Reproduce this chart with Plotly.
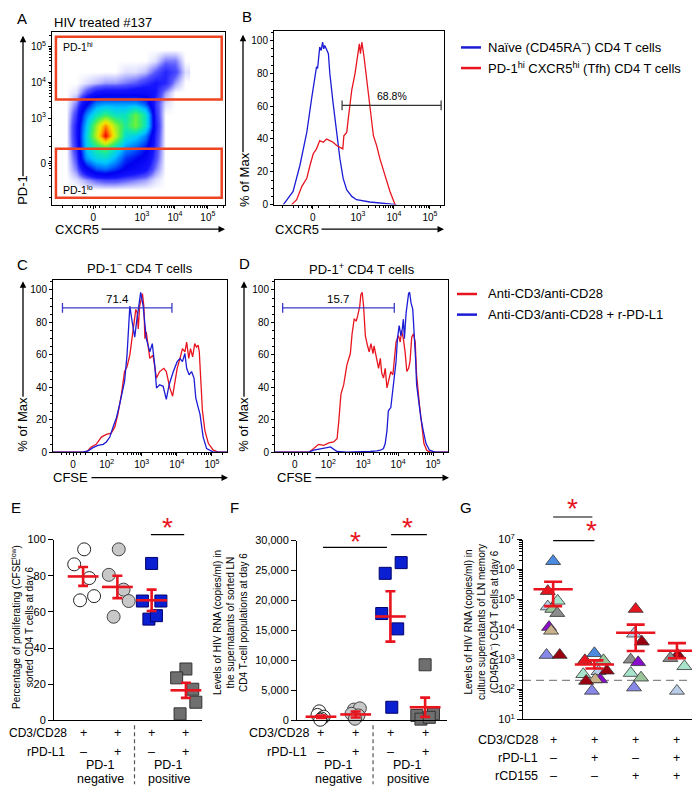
import plotly.graph_objects as go

W, H = 700, 792
PAGE_MARGIN = 8   # the browser adds an 8px body margin around the plot div
def P(x): return (x - PAGE_MARGIN) / W
def Q(y): return 1 - (y - PAGE_MARGIN) / H

FONT = 'Liberation Sans, Arial, Helvetica, sans-serif'
RED = '#e8141e'
BLUE = '#1c1cd6'
GATE_BLUE = '#3a3ac8'

# ---------------- Panel A: PD-1 vs CXCR5 density (display decades) ----------------
a_grid_x = [0.7, 1.0, 1.3, 1.6, 1.9, 2.2, 2.5, 2.8, 3.1, 3.4, 3.7, 4.0, 4.3]
a_grid_y = [1.0, 1.3, 1.6, 1.9, 2.2, 2.5, 2.8, 3.1, 3.4, 3.7, 4.0, 4.3, 4.6, 4.9]
a_density = [
    [0, 0, 0, 0, 0, 0, 0, 0, 0, 0, 0, 0, 0],
    [0, 0.1, 0.3, 0.5, 0.6, 0.6, 0.5, 0.4, 0.3, 0.1, 0, 0, 0],
    [0, 0.4, 1.4, 2.2, 2.4, 2.0, 1.5, 1.3, 1.0, 0.4, 0, 0, 0],
    [0, 0.6, 2.8, 3.6, 3.8, 3.0, 2.0, 1.7, 1.4, 0.6, 0, 0, 0],
    [0, 0.8, 3.3, 4.5, 5.2, 4.0, 2.8, 2.4, 1.8, 0.7, 0, 0, 0],
    [0, 0.9, 3.5, 6.5, 10, 6.5, 3.8, 3.4, 2.6, 0.8, 0, 0, 0],
    [0, 0.9, 3.2, 6.0, 8.5, 6.0, 4.4, 5.6, 4.0, 0.9, 0, 0, 0],
    [0, 0.7, 2.6, 4.0, 4.8, 4.0, 4.0, 5.4, 4.0, 0.8, 0, 0, 0],
    [0, 0.4, 1.5, 2.6, 2.8, 2.8, 2.8, 2.8, 2.2, 0.7, 0.1, 0, 0],
    [0, 0.1, 0.6, 1.0, 1.1, 1.1, 1.1, 1.2, 1.2, 0.9, 0.3, 0, 0],
    [0, 0, 0.1, 0.2, 0.3, 0.3, 0.4, 0.5, 0.7, 0.9, 0.8, 0.3, 0],
    [0, 0, 0, 0, 0, 0, 0.1, 0.1, 0.2, 0.5, 0.8, 0.6, 0.1],
    [0, 0, 0, 0, 0, 0, 0, 0, 0, 0.1, 0.4, 0.4, 0],
    [0, 0, 0, 0, 0, 0, 0, 0, 0, 0, 0, 0, 0],
]
a_gate_x = [0.39, 5.42]
a_gate_hi = [3.52, 5.27]
a_gate_lo = [0.78, 2.15]
a_ticks = ['0', '10<sup>3</sup>', '10<sup>4</sup>', '10<sup>5</sup>']

# ---------------- Panel B: CXCR5 histograms ----------------
b_naive_x = [0.93, 1.20, 1.39, 1.58, 1.71, 1.80, 1.85, 1.88, 1.94, 1.98, 2.02, 2.05, 2.08, 2.18, 2.22,
             2.31, 2.41, 2.50, 2.59, 2.69, 2.83, 2.96, 3.33, 3.80, 4.07]
b_naive_y = [0, 8, 24, 44, 64, 78, 84, 83, 96, 94, 99, 95, 97, 92, 80, 62, 44, 28, 16, 9, 5, 3, 1.6, 0.6, 0]
b_tfh_x = [1.16, 1.30, 1.44, 1.58, 1.67, 1.76, 1.85, 1.94, 2.04, 2.13, 2.22, 2.31, 2.41, 2.50, 2.58,
           2.61, 2.69, 2.73, 2.83, 2.92, 2.98, 3.04, 3.07, 3.11, 3.17, 3.24, 3.33, 3.43, 3.52, 3.61,
           3.75, 3.89, 4.03]
b_tfh_y = [0, 3, 11, 16, 24, 31, 34, 39, 38, 40, 39, 38, 36, 35, 34, 42, 44, 52, 70, 80, 90, 98, 92, 99,
           90, 76, 58, 42, 36, 28, 18, 8, 0]
b_gate = [2.56, 5.31, 60.5]
b_gate_label = '68.8%'

# ---------------- Panels C/D: CFSE histograms ----------------
c_blue_x = [0.47, 1.32, 1.47, 1.61, 1.75, 1.90, 1.99, 2.09, 2.18, 2.28, 2.37, 2.45, 2.51, 2.58, 2.66, 2.73,
            2.80, 2.85, 2.90, 2.97, 3.04, 3.13, 3.23, 3.30, 3.37, 3.42, 3.51, 3.61, 3.70, 3.78, 3.90,
            4.01, 4.09, 4.16, 4.23, 4.28, 4.35, 4.42, 4.49, 4.54, 4.61, 4.66, 4.75, 4.85, 5.04, 5.43]
c_blue_y = [0, 0, 0.8, 2.8, 4.2, 4.8, 6.3, 9.3, 15.4, 21.4, 29.5, 37.6, 43.6, 59.8, 90, 80, 70.9, 80, 88,
            98.6, 90, 70, 61.8, 66.9, 53.7, 39.6, 41.6, 40.6, 32.5, 41.6, 49.7, 55.8, 57.8, 55.8, 60.8,
            51.7, 47.7, 49.7, 45.7, 33.5, 27.5, 23.4, 9.3, 2.2, 0, 0]
c_red_x = [0.47, 1.42, 1.56, 1.70, 1.85, 1.99, 2.13, 2.23, 2.32, 2.42, 2.51, 2.58, 2.66, 2.73, 2.78, 2.83,
           2.87, 2.90, 2.94, 3.02, 3.06, 3.09, 3.13, 3.18, 3.23, 3.32, 3.42, 3.51, 3.63, 3.70, 3.80,
           3.88, 3.94, 4.01, 4.09, 4.16, 4.23, 4.28, 4.34, 4.39, 4.45, 4.51, 4.56, 4.61, 4.64, 4.68,
           4.73, 4.80, 4.90, 5.04, 5.18, 5.43]
c_red_y = [0, 0, 3.2, 4.8, 9.3, 10.9, 11.7, 15.4, 23.4, 35.6, 49.7, 52.7, 59.8, 71.9, 80, 88, 86, 76, 90,
           97.8, 90, 70, 74, 63.8, 57.8, 59.8, 45.7, 49.7, 51.7, 49.7, 39.6, 34.5, 43.6, 51.7, 57.8,
           63.8, 61.8, 67.9, 57.8, 63.8, 58.8, 66.9, 64.8, 65.9, 61.8, 41.6, 25.5, 13.3, 5.3, 1.2, 0, 0]
c_gate = [0.74, 3.86, 89]
c_gate_label = '71.4'

d_red_x = [0.47, 1.44, 1.58, 1.72, 1.87, 2.01, 2.15, 2.25, 2.30, 2.36, 2.44, 2.53, 2.63, 2.68, 2.74, 2.80,
           2.84, 2.90, 2.93, 2.97, 3.01, 3.06, 3.12, 3.17, 3.22, 3.28, 3.31, 3.37, 3.44, 3.49, 3.53,
           3.58, 3.63, 3.68, 3.72, 3.79, 3.85, 3.90, 3.94, 4.01, 4.06, 4.10, 4.15, 4.20, 4.25, 4.30,
           4.34, 4.39, 4.44, 4.49, 4.53, 4.61, 4.68, 4.74, 4.82, 4.91, 5.43]
d_red_y = [0, 0, 2.2, 4.8, 4.2, 5.7, 6.3, 8.3, 19.4, 35.6, 41.6, 53.7, 60.8, 72.9, 82, 81, 84, 90, 97,
           98.6, 90, 71.9, 65.9, 61.8, 66.9, 60.8, 65.5, 58.8, 51.7, 57.8, 48.7, 45.7, 51.7, 39.6, 43.6,
           49.7, 47.7, 61.8, 67.9, 71.9, 67.9, 75, 69.9, 61.8, 49.7, 51.7, 55.8, 70.9, 72.9, 67.9,
           47.7, 29.5, 15.4, 5.3, 1.2, 0, 0]
d_blue_x = [0.47, 1.44, 1.58, 1.77, 1.96, 2.06, 2.15, 2.25, 2.53, 3.01, 3.20, 3.39, 3.49, 3.58, 3.63, 3.68,
            3.72, 3.79, 3.85, 3.90, 3.94, 3.98, 4.03, 4.08, 4.12, 4.15, 4.18, 4.23, 4.27, 4.30, 4.33,
            4.37, 4.42, 4.46, 4.50, 4.53, 4.58, 4.65, 4.72, 4.80, 4.90, 5.06, 5.43]
d_blue_y = [0, 0, 1.2, 2.2, 2.8, 3.2, 1.6, 0.4, 0, 0, 0.4, 0.8, 1.2, 2.2, 5.3, 13.3, 25.5, 27.5, 37.6,
            45.7, 55.8, 69.9, 78, 71.9, 76, 82, 69.9, 86, 94, 97.8, 98.6, 92, 88, 76, 57.8, 41.6, 31.5,
            21.4, 13.3, 5.3, 1.2, 0, 0]
d_gate = [0.69, 3.89, 89]
d_gate_label = '15.7'
cfse_ticks = ['0', '10<sup>2</sup>', '10<sup>3</sup>', '10<sup>4</sup>', '10<sup>5</sup>']

# ---------------- Panel E: % proliferating ----------------
ef_groups = [1, 2, 3, 4]
e_values = [[94.6, 86.3, 78.7, 66.4, 68.7],
            [94.6, 80.5, 72.3, 66.0, 57.3],
            [86.8, 66.0, 66.0, 56.0, 57.9],
            [28.4, 23.5, 17.2, 10.0, 3.6]]
e_jitter = [[0.03, -0.26, 0.18, -0.09, 0.32],
            [0.04, -0.25, 0.18, 0.33, -0.11],
            [0.0, -0.27, 0.27, -0.08, 0.14],
            [0.0, -0.27, 0.2, 0.29, -0.17]]
e_mean = [79.6, 73.8, 66.4, 16.6]
e_sem = [5.2, 6.2, 5.9, 4.2]

# ---------------- Panel F: HIV RNA (linear) ----------------
f_values = [[1500, 900, 600, 300, 100],
            [1800, 2000, 1090, 820, 270],
            [24530, 26320, 17820, 15260, 2180],
            [9270, 820, 1090, 200, 500]]
f_jitter = [[-0.05, -0.1, 0.08, 0.02, -0.02],
            [-0.05, 0.12, -0.12, 0.08, -0.02],
            [-0.15, 0.31, -0.25, 0.21, 0.04],
            [0.0, -0.24, 0.24, -0.12, 0.12]]
f_mean = [600, 980, 17330, 2180]
f_sem = [200, 500, 4200, 1600]

# ---------------- Panel G: HIV RNA (log), triangles per donor ----------------
g_groups = [1, 2, 3, 4]
g_values = [[1.9e6, 1.9e5, 5.8e4, 9.0e4, 4.8e4, 3.5e4, 1.2e4, 9000, 1400, 1400],
            [1600, 930, 400, 320, 930, 215, 215, 89, 190, 420],
            [4.8e4, 7200, 3900, 980, 800, 350, 245, 115],
            [1400, 1100, 590, 89]]
g_jitter = [[0, -0.13, -0.13, 0.11, -0.02, 0.1, -0.1, -0.05, -0.16, 0.16],
            [0, -0.23, 0.1, -0.27, 0.22, 0.14, 0.02, -0.06, -0.2, 0.3],
            [0, -0.04, 0.15, -0.12, 0.06, -0.12, 0.13, -0.04],
            [0.02, -0.16, 0.18, 0.0]]
g_donor = [[0, 1, 2, 3, 4, 5, 6, 7, 8, 9],
           [0, 1, 2, 3, 4, 6, 7, 8, 9, 9],
           [1, 2, 9, 5, 6, 3, 4, 8],
           [9, 5, 3, 2]]
donor_colors = ['#4a8be0', '#e8141e', '#b9cde8', '#a8e4cc', '#9cc49a',
                '#8c8c8c', '#8a0ccc', '#c9b38c', '#8888e8', '#9a0010']
g_mean = [2.2e5, 680, 7800, 1950]
g_err_plus = [1.7e5, 250, 6700, 1550]
g_err_minus = [1.6e5, 180, 5900, 850]
g_threshold = 200
g_ticks = ['10<sup>%d</sup>' % k for k in range(1, 8)]

# ====================================================================
fig = go.Figure()

jet = [[0.0, '#ffffff'], [0.02, '#c0c0ff'], [0.05, '#5858ff'], [0.09, '#1414ff'], [0.16, '#0000f0'],
       [0.24, '#0070ff'], [0.32, '#00c8ff'], [0.42, '#10e8b0'], [0.52, '#50f050'], [0.62, '#b0f020'],
       [0.72, '#f0e800'], [0.82, '#ffa000'], [0.92, '#ff4000'], [1.0, '#f00000']]
fig.add_trace(go.Heatmap(x=a_grid_x, y=a_grid_y, z=a_density, colorscale=jet, zmin=0, zmax=10,
                         zsmooth='best', showscale=False, hoverinfo='skip', xaxis='x', yaxis='y'))

fig.add_trace(go.Scatter(x=b_naive_x, y=b_naive_y, mode='lines', line=dict(color=BLUE, width=1.3),
                         xaxis='x2', yaxis='y2'))
fig.add_trace(go.Scatter(x=b_tfh_x, y=b_tfh_y, mode='lines', line=dict(color=RED, width=1.3),
                         xaxis='x2', yaxis='y2'))

fig.add_trace(go.Scatter(x=c_red_x, y=c_red_y, mode='lines', line=dict(color=RED, width=1.3),
                         xaxis='x3', yaxis='y3'))
fig.add_trace(go.Scatter(x=c_blue_x, y=c_blue_y, mode='lines', line=dict(color=BLUE, width=1.3),
                         xaxis='x3', yaxis='y3'))
fig.add_trace(go.Scatter(x=d_red_x, y=d_red_y, mode='lines', line=dict(color=RED, width=1.3),
                         xaxis='x4', yaxis='y4'))
fig.add_trace(go.Scatter(x=d_blue_x, y=d_blue_y, mode='lines', line=dict(color=BLUE, width=1.3),
                         xaxis='x4', yaxis='y4'))

ef_styles = [dict(symbol='circle', size=13, color='white', line=dict(color='#222', width=1)),
             dict(symbol='circle', size=13, color='#c8c8c8', line=dict(color='#444', width=1)),
             dict(symbol='square', size=12, color='#0a1ed2', line=dict(color='#00006a', width=1)),
             dict(symbol='square', size=12, color='#6f6f6f', line=dict(color='#333', width=1))]

for xa, ya, vals, jit, mean, sem in [('x5', 'y5', e_values, e_jitter, e_mean, e_sem),
                                      ('x6', 'y6', f_values, f_jitter, f_mean, f_sem)]:
    for gi, g in enumerate(ef_groups):
        fig.add_trace(go.Scatter(x=[g + j for j in jit[gi]], y=vals[gi], mode='markers',
                                 marker=ef_styles[gi], cliponaxis=False, xaxis=xa, yaxis=ya))
    fig.add_trace(go.Scatter(x=ef_groups, y=mean, mode='markers', cliponaxis=False,
                             marker=dict(symbol='line-ew', size=22, line=dict(color=RED, width=2.6)),
                             error_y=dict(type='data', array=sem, color=RED, thickness=2.6, width=5),
                             xaxis=xa, yaxis=ya))

fig.add_trace(go.Scatter(x=[0.27, 4.51], y=[g_threshold, g_threshold], mode='lines',
                         line=dict(color='#888', width=1.2, dash='8px,5px'), xaxis='x7', yaxis='y7'))
for gi, g in enumerate(g_groups):
    fig.add_trace(go.Scatter(x=[g + j for j in g_jitter[gi]], y=g_values[gi], mode='markers',
                             cliponaxis=False,
                             marker=dict(symbol='triangle-up', size=13,
                                         color=[donor_colors[d] for d in g_donor[gi]],
                                         line=dict(color='#333', width=0.8)),
                             xaxis='x7', yaxis='y7'))
fig.add_trace(go.Scatter(x=g_groups, y=g_mean, mode='markers', cliponaxis=False,
                         marker=dict(symbol='line-ew', size=28, line=dict(color=RED, width=2.6)),
                         error_y=dict(type='data', symmetric=False, array=g_err_plus,
                                      arrayminus=g_err_minus, color=RED, thickness=2.6, width=9),
                         xaxis='x7', yaxis='y7'))

# ---------------- axes ----------------
def log_minor(decades):
    import math
    return [d + math.log10(k) for d in decades for k in range(2, 10)]

def box_axis(dom, rng, tickvals, ticktext, minor=None, size=10):
    ax = dict(domain=dom, range=rng, tickvals=tickvals, ticktext=ticktext, showline=True, mirror=True,
              linecolor='black', linewidth=1, ticks='outside', ticklen=3, tickcolor='black',
              showgrid=False, zeroline=False, tickfont=dict(size=size, family=FONT, color='black'),
              fixedrange=True)
    if minor is not None:
        ax['minor'] = minor
    return ax

a_minor_x = dict(tickvals=[0.6, 0.9, 1.2, 1.35, 1.45, 1.6, 1.7, 1.9, 2.2, 2.5, 2.7, 2.85] +
                 [v for v in log_minor([3, 4, 5]) if v < 5.5], ticks='outside', ticklen=2, tickcolor='black')
a_minor_y = dict(tickvals=[0.8, 1.1, 1.4, 1.6, 1.68, 1.8, 1.9, 2.2, 2.5, 2.8] +
                 [v for v in log_minor([3, 4, 5]) if v < 5.4], ticks='outside', ticklen=2, tickcolor='black')
cf_minor = dict(tickvals=[0.7, 0.85, 0.95, 1.15, 1.25, 1.4, 1.6, 1.75] +
                [v for v in log_minor([2, 3, 4, 5]) if v < 5.43], ticks='outside', ticklen=2, tickcolor='black')
pct_minor = dict(dtick=5, ticks='outside', ticklen=2, tickcolor='black')
pct_vals = [0, 20, 40, 60, 80, 100]
pct_text = ['0', '20', '40', '60', '80', '100']

layout = dict(
    xaxis=box_axis([P(52), P(225)], [0.27, 5.52], [1.52, 3, 4, 5], a_ticks, a_minor_x),
    yaxis=box_axis([Q(200), Q(24)], [0.59, 5.41], [1.74, 3, 4, 5], a_ticks, a_minor_y),
    xaxis2=box_axis([P(274), P(444)], [0.67, 5.39], [1.75, 3, 4, 5], a_ticks, a_minor_x),
    yaxis2=box_axis([Q(200), Q(23)], [0, 106], pct_vals, pct_text, pct_minor),
    xaxis3=box_axis([P(53), P(227)], [0.47, 5.43], [1.04, 2, 3, 4, 5], cfse_ticks, cf_minor),
    yaxis3=box_axis([Q(452), Q(277)], [0, 106], pct_vals, pct_text, pct_minor),
    xaxis4=box_axis([P(275), P(448)], [0.47, 5.43], [1.04, 2, 3, 4, 5], cfse_ticks, cf_minor),
    yaxis4=box_axis([Q(452), Q(277)], [0, 106], pct_vals, pct_text, pct_minor),
)
for n in ('2', '3', '4'):
    layout['xaxis' + n]['anchor'] = 'y' + n
    layout['yaxis' + n]['anchor'] = 'x' + n

def open_x(dom, rng, anchor):
    return dict(domain=dom, range=rng, anchor=anchor, showline=True, linecolor='black', linewidth=1,
                ticks='', showticklabels=False, showgrid=False, zeroline=False, fixedrange=True)

def open_y(dom, rng, anchor, **kw):
    d = dict(domain=dom, range=rng, anchor=anchor, showline=True, linecolor='black', linewidth=1,
             ticks='outside', ticklen=5, tickcolor='black', showgrid=False, zeroline=False,
             tickfont=dict(size=11, family=FONT, color='black'), fixedrange=True)
    d.update(kw)
    return d

layout['xaxis5'] = open_x([P(54), P(202)], [0.15, 4.47], 'y5')
layout['yaxis5'] = open_y([Q(725), Q(541)], [0, 100], 'x5', tickvals=pct_vals)
layout['xaxis6'] = open_x([P(297), P(447)], [0.31, 4.63], 'y6')
layout['yaxis6'] = open_y([Q(725), Q(542)], [0, 30000], 'x6',
                          tickvals=[0, 5000, 10000, 15000, 20000, 25000, 30000], tickformat=',d')
layout['xaxis7'] = open_x([P(523), P(698)], [0.27, 4.51], 'y7')
layout['yaxis7'] = open_y([Q(724), Q(541)], [1, 7], 'x7', type='log',
                          tickvals=[10 ** k for k in range(1, 8)], ticktext=g_ticks,
                          minor=dict(tickvals=[k * 10 ** d for d in range(1, 7) for k in range(2, 10)],
                                     ticks='outside', ticklen=3, tickcolor='black'))

# ---------------- shapes & annotations ----------------
shapes = []
ann = []
TS = 13     # general text size
RS = 12.5   # row-label text size (panels E-G)
LS = 15     # panel letters

def text(x, y, s, size=TS, xanchor='center', yanchor='middle', angle=0, color='black',
         xref='paper', yref='paper'):
    ann.append(dict(x=x, y=y, xref=xref, yref=yref, text=s, showarrow=False, xanchor=xanchor,
                    yanchor=yanchor, textangle=angle, font=dict(size=size, color=color, family=FONT)))

def arrow(xt, yt, xs, ys):
    ann.append(dict(x=P(xt), y=Q(yt), xref='paper', yref='paper', ax=xs - xt, ay=ys - yt,
                    axref='pixel', ayref='pixel', text='', showarrow=True, arrowhead=2, arrowsize=1,
                    arrowwidth=1.3, arrowcolor='black', standoff=0))

def pline(x0, y0, x1, y1, color='black', width=1.2):
    shapes.append(dict(type='line', xref='paper', yref='paper', x0=P(x0), y0=Q(y0), x1=P(x1), y1=Q(y1),
                       line=dict(color=color, width=width)))

# Panel A
for gy in (a_gate_hi, a_gate_lo):
    shapes.append(dict(type='rect', xref='x', yref='y', x0=a_gate_x[0], x1=a_gate_x[1], y0=gy[0], y1=gy[1],
                       line=dict(color='#ee4422', width=2.5), layer='above'))
text(P(22), Q(11), 'A', LS)
text(P(52), Q(15), 'HIV treated #137', TS, 'left')
text(P(61), Q(39), 'PD-1<sup>hi</sup>', 10.5, 'left')
text(P(61), Q(185), 'PD-1<sup>lo</sup>', 10.5, 'left')
text(P(23), Q(185), 'PD-1', TS, angle=-90)
arrow(23, 28, 23, 170)
text(P(53), Q(225), 'CXCR5', TS, 'left')
arrow(225, 225, 100, 225)

# Panel B
text(P(247), Q(9), 'B', LS)
text(P(244), Q(175), '% of Max', TS, angle=-90)
arrow(243, 27, 243, 146)
text(P(273), Q(225), 'CXCR5', TS, 'left')
arrow(444, 225, 320, 225)
shapes.append(dict(type='line', xref='x2', yref='y2', x0=b_gate[0], x1=b_gate[1], y0=b_gate[2], y1=b_gate[2],
                   line=dict(color='#333', width=1.2)))
for xx in (b_gate[0], b_gate[1]):
    shapes.append(dict(type='line', xref='x2', yref='y2', x0=xx, x1=xx, y0=b_gate[2] - 3,
                       y1=b_gate[2] + 3, line=dict(color='#333', width=1.2)))
text((b_gate[0] + b_gate[1]) / 2, b_gate[2] + 1, b_gate_label, 10.5, yanchor='bottom', xref='x2', yref='y2')
pline(461, 40, 481, 40, BLUE, 2.5)
pline(461, 61, 481, 61, RED, 2.5)
text(P(486), Q(40), 'Naïve (CD45RA<sup>−</sup>) CD4 T cells', TS, 'left')
text(P(486), Q(61), 'PD-1<sup>hi</sup> CXCR5<sup>hi</sup> (Tfh) CD4 T cells', TS, 'left')

# Panels C, D
text(P(22), Q(261), 'C', LS)
text(P(140), Q(265), 'PD-1<sup>−</sup> CD4 T cells', TS)
text(P(23), Q(424), '% of Max', TS, angle=-90)
arrow(23, 278, 23, 395)
text(P(51), Q(478), 'CFSE', TS, 'left')
arrow(228, 478, 90, 478)
text(P(244), Q(260), 'D', LS)
text(P(362), Q(266), 'PD-1<sup>+</sup> CD4 T cells', TS)
text(P(244), Q(424), '% of Max', TS, angle=-90)
arrow(244, 278, 244, 395)
text(P(275), Q(478), 'CFSE', TS, 'left')
arrow(449, 478, 314, 478)
for xa, ya, gate, lab in [('x3', 'y3', c_gate, c_gate_label), ('x4', 'y4', d_gate, d_gate_label)]:
    shapes.append(dict(type='line', xref=xa, yref=ya, x0=gate[0], x1=gate[1], y0=gate[2], y1=gate[2],
                       line=dict(color=GATE_BLUE, width=1.3)))
    for xx in (gate[0], gate[1]):
        shapes.append(dict(type='line', xref=xa, yref=ya, x0=xx, x1=xx, y0=gate[2] - 3, y1=gate[2] + 3,
                           line=dict(color=GATE_BLUE, width=1.3)))
    text((gate[0] + gate[1]) / 2, gate[2] + 0.5, lab, 11.5, yanchor='bottom', xref=xa, yref=ya)
pline(457, 291, 477, 291, RED, 2.5)
pline(457, 312, 477, 312, BLUE, 2.5)
text(P(486), Q(291), 'Anti-CD3/anti-CD28', TS, 'left')
text(P(486), Q(312), 'Anti-CD3/anti-CD28 + r-PD-L1', TS, 'left')

# Panel E
text(P(9), Q(508), 'E', LS, 'left')
text(P(22), Q(630), 'Percentage of proliferating (CFSE<sup>low</sup>)<br>sorted CD4 T cells at day 6', 10,
     angle=-90)
row_signs_ef = [['+', '+', '+', '+'], ['–', '+', '–', '+']]
for xa, xr, rsize, yrows, ylab in [('x5', 69, 12, [738, 757], [770, 785]),
                                   ('x6', 311, RS, [738, 757], [770, 785])]:
    text(P(xr), Q(yrows[0]), 'CD3/CD28', rsize, 'right')
    text(P(xr - 2), Q(yrows[1]), 'rPD-L1', rsize, 'right')
    for r, yy in enumerate(yrows):
        for g, s in zip(ef_groups, row_signs_ef[r]):
            text(g, Q(yy), s, RS, xref=xa)
    text(1.5, Q(ylab[0]), 'PD-1', RS, xref=xa)
    text(1.5, Q(ylab[1]), 'negative', RS, xref=xa)
    text(3.5, Q(ylab[0]), 'PD-1', RS, xref=xa)
    text(3.5, Q(ylab[1]), 'positive', RS, xref=xa)
    shapes.append(dict(type='line', xref=xa, yref='paper', x0=2.5, x1=2.5, y0=Q(730), y1=Q(790),
                       line=dict(color='#555', width=1.2, dash='4px,3px')))

def sig(xa, x0, x1, ypx, starx, stary):
    shapes.append(dict(type='line', xref=xa, yref='paper', x0=x0, x1=x1, y0=Q(ypx), y1=Q(ypx),
                       line=dict(color='black', width=1.2)))
    text(starx, Q(stary + 4), '*', 28, color=RED, xref=xa)

sig('x5', 2.98, 3.95, 536, 3.47, 525)

# Panel F
text(P(234), Q(508), 'F', LS)
text(P(230), Q(625), 'Levels of HIV RNA (copies/ml) in<br>the supernatants of sorted LN<br>'
     'CD4 T-cell populations at day 6', 10, angle=-90)
sig('x6', 1.06, 2.9, 549, 1.99, 539)
sig('x6', 3.02, 4.05, 536, 3.5, 525)

# Panel G
text(P(466), Q(508), 'G', LS)
text(P(481), Q(625), 'Levels of HIV RNA (copies/ml) in<br>culture supernatants of LN memory<br>'
     '(CD45RA<sup>−</sup>) CD4 T cells at day 6', 10, angle=-90)
g_rows = [('CD3/CD28', 745, ['+', '+', '+', '+']),
          ('rPD-L1', 763, ['–', '+', '–', '+']),
          ('rCD155', 782, ['–', '–', '+', '+'])]
for lab, yy, signs in g_rows:
    text(P(540), Q(yy), lab, RS, 'right')
    for g, s in zip(g_groups, signs):
        text(g, Q(yy), s, RS, xref='x7')
sig('x7', 1.0, 1.95, 518, 1.46, 505)
sig('x7', 1.0, 2.0, 542, 1.94, 528)

fig.update_layout(**layout)
fig.update_layout(width=W, height=H, margin=dict(l=0, r=0, t=0, b=0), showlegend=False,
                  paper_bgcolor='white', plot_bgcolor='white', shapes=shapes, annotations=ann,
                  font=dict(family=FONT, size=12, color='black'))
fig.write_html('out.html')
